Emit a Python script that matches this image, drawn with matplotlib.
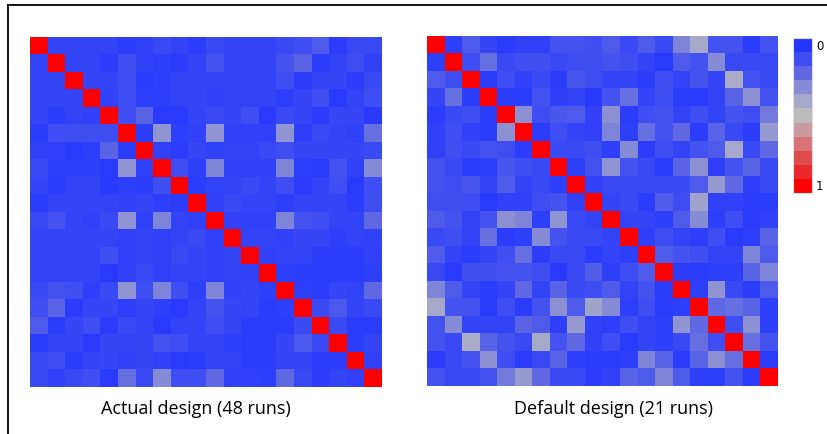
import numpy as np
import matplotlib
matplotlib.use("Agg")
import matplotlib.pyplot as plt
from matplotlib.colors import LinearSegmentedColormap
from matplotlib.lines import Line2D

N_FACTORS = 20

# upper-triangle |correlation| values, row i holds columns i+1 .. 19
actual_upper = [
    [0.06, 0.06, 0.06, 0.06, 0.03, 0.05, 0.08, 0.06, 0.03, 0.08, 0.06, 0.06, 0.06, 0.08, 0.10, 0.15, 0.03, 0.08, 0.08],
    [0.06, 0.06, 0.03, 0.10, 0.05, 0.04, 0.03, 0.06, 0.12, 0.06, 0.06, 0.06, 0.12, 0.18, 0.03, 0.06, 0.10, 0.05],
    [0.06, 0.06, 0.10, 0.02, 0.04, 0.06, 0.06, 0.06, 0.06, 0.06, 0.06, 0.10, 0.03, 0.07, 0.07, 0.03, 0.08],
    [0.05, 0.10, 0.04, 0.04, 0.06, 0.06, 0.05, 0.06, 0.06, 0.06, 0.04, 0.07, 0.10, 0.02, 0.06, 0.10],
    [0.10, 0.18, 0.02, 0.02, 0.06, 0.08, 0.06, 0.10, 0.02, 0.08, 0.07, 0.03, 0.07, 0.07, 0.02],
    [0.03, 0.33, 0.04, 0.05, 0.33, 0.05, 0.05, 0.05, 0.33, 0.04, 0.08, 0.06, 0.05, 0.22],
    [0.05, 0.03, 0.07, 0.05, 0.06, 0.06, 0.08, 0.10, 0.07, 0.07, 0.07, 0.07, 0.08],
    [0.10, 0.04, 0.28, 0.05, 0.05, 0.05, 0.28, 0.04, 0.02, 0.12, 0.05, 0.30],
    [0.03, 0.06, 0.06, 0.08, 0.06, 0.10, 0.02, 0.06, 0.10, 0.02, 0.10],
    [0.05, 0.08, 0.06, 0.06, 0.04, 0.06, 0.06, 0.06, 0.03, 0.10],
    [0.05, 0.05, 0.05, 0.28, 0.12, 0.10, 0.06, 0.06, 0.20],
    [0.06, 0.06, 0.05, 0.07, 0.07, 0.04, 0.06, 0.05],
    [0.05, 0.06, 0.06, 0.03, 0.03, 0.03, 0.05],
    [0.04, 0.03, 0.03, 0.03, 0.03, 0.04],
    [0.04, 0.03, 0.07, 0.06, 0.20],
    [0.08, 0.14, 0.06, 0.08],
    [0.08, 0.03, 0.03],
    [0.03, 0.06],
    [0.05],
]

default_upper = [
    [0.04, 0.15, 0.07, 0.03, 0.05, 0.05, 0.12, 0.12, 0.10, 0.15, 0.08, 0.15, 0.08, 0.28, 0.40, 0.12, 0.12, 0.03, 0.12],
    [0.10, 0.22, 0.08, 0.10, 0.10, 0.08, 0.10, 0.10, 0.12, 0.10, 0.06, 0.02, 0.15, 0.12, 0.30, 0.08, 0.08, 0.08],
    [0.03, 0.10, 0.05, 0.08, 0.03, 0.13, 0.10, 0.06, 0.06, 0.03, 0.10, 0.06, 0.12, 0.06, 0.42, 0.12, 0.08],
    [0.03, 0.03, 0.12, 0.04, 0.06, 0.02, 0.12, 0.22, 0.06, 0.10, 0.03, 0.02, 0.06, 0.18, 0.32, 0.12],
    [0.32, 0.10, 0.13, 0.15, 0.05, 0.32, 0.03, 0.10, 0.12, 0.06, 0.10, 0.06, 0.12, 0.10, 0.25],
    [0.03, 0.10, 0.06, 0.05, 0.28, 0.04, 0.22, 0.12, 0.20, 0.03, 0.18, 0.08, 0.03, 0.35],
    [0.08, 0.08, 0.10, 0.04, 0.30, 0.03, 0.10, 0.06, 0.12, 0.15, 0.40, 0.08, 0.20],
    [0.04, 0.12, 0.33, 0.12, 0.08, 0.02, 0.18, 0.32, 0.04, 0.12, 0.18, 0.08],
    [0.05, 0.08, 0.08, 0.08, 0.08, 0.08, 0.15, 0.35, 0.20, 0.04, 0.08],
    [0.06, 0.08, 0.03, 0.16, 0.10, 0.38, 0.05, 0.05, 0.03, 0.03],
    [0.06, 0.06, 0.04, 0.15, 0.30, 0.04, 0.10, 0.03, 0.05],
    [0.04, 0.10, 0.06, 0.04, 0.10, 0.02, 0.04, 0.18],
    [0.15, 0.12, 0.10, 0.06, 0.06, 0.28, 0.15],
    [0.03, 0.03, 0.04, 0.04, 0.18, 0.28],
    [0.04, 0.33, 0.08, 0.03, 0.15],
    [0.20, 0.22, 0.18, 0.04],
    [0.10, 0.32, 0.04],
    [0.22, 0.12],
    [0.03],
]

titles = ["Actual design (48 runs)", "Default design (21 runs)"]
cbar_levels = np.linspace(0, 1, 11)
cbar_labels = ["0", "1"]


def full_matrix(upper):
    m = np.eye(N_FACTORS)
    for i, row in enumerate(upper):
        for k, v in enumerate(row):
            j = i + 1 + k
            m[i, j] = m[j, i] = v
    return m


cmap = LinearSegmentedColormap.from_list("bgr", [
    (0.00, "#2435ff"),
    (0.10, "#3f4ff2"),
    (0.20, "#5f68e2"),
    (0.30, "#878cd6"),
    (0.40, "#a6a8c9"),
    (0.50, "#bcbcbc"),
    (0.60, "#cc9a9e"),
    (0.70, "#d87377"),
    (0.80, "#e04c4e"),
    (0.90, "#ea2a2c"),
    (1.00, "#ff0000"),
])

fig = plt.figure(figsize=(8.27, 4.34), dpi=100)
W, H = 827, 434


def px_axes(x0, y0, x1, y1):
    return fig.add_axes([x0 / W, 1 - y1 / H, (x1 - x0) / W, (y1 - y0) / H])


panels = [
    (full_matrix(actual_upper), (30, 37, 381, 387), (196, 409)),
    (full_matrix(default_upper), (427, 36, 778, 386), (614, 409)),
]
for (mat, box, tpos), title in zip(panels, titles):
    ax = px_axes(*box)
    ax.imshow(mat, cmap=cmap, vmin=0, vmax=1, interpolation="nearest", aspect="auto")
    ax.set_xticks([])
    ax.set_yticks([])
    for s in ax.spines.values():
        s.set_visible(False)
    fig.text(tpos[0] / W, 1 - tpos[1] / H, title, ha="center", va="center",
             fontsize=13, family="Open Sans")

# stepped colour key
cax = px_axes(793, 38, 812, 193)
cax.imshow(cbar_levels.reshape(-1, 1), cmap=cmap, vmin=0, vmax=1,
           interpolation="nearest", aspect="auto")
cax.set_xticks([])
cax.set_yticks([])
for s in cax.spines.values():
    s.set_color("#dddddd")
    s.set_linewidth(0.8)
fig.text(816 / W, 1 - 46 / H, cbar_labels[0], ha="left", va="center", fontsize=8.5)
fig.text(816 / W, 1 - 187 / H, cbar_labels[1], ha="left", va="center", fontsize=8.5)

# outer frame (top and left edges)
fig.add_artist(Line2D([8 / W, 1], [1 - 5 / H, 1 - 5 / H], color="black", lw=1.3))
fig.add_artist(Line2D([8 / W, 8 / W], [0, 1 - 5 / H], color="black", lw=1.3))

fig.savefig("out.png", dpi=100)
